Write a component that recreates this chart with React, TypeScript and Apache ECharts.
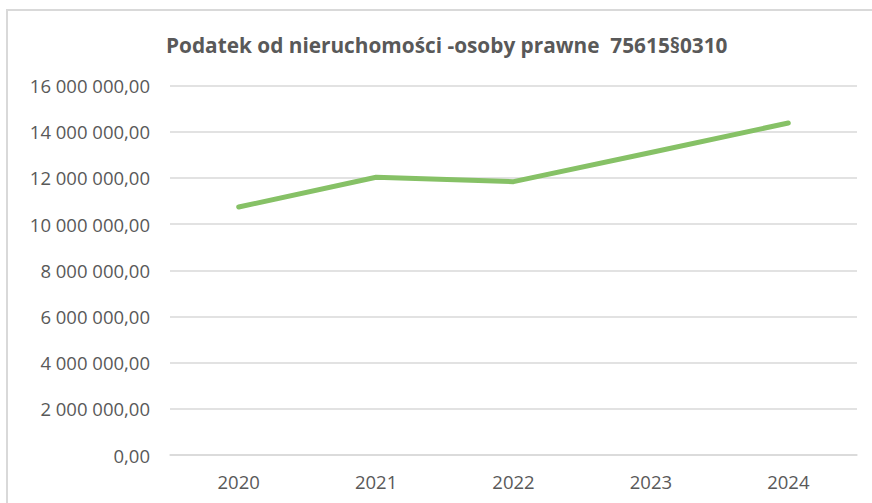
import React, { useEffect, useRef } from "react";
import * as echarts from "echarts";

const TITLE = "Podatek od nieruchomości -osoby prawne  75615§0310";
const years = ["2020", "2021", "2022", "2023", "2024"];
const values = [10740000, 12030000, 11840000, 13100000, 14380000];

const fmt = (v: number) => {
  const [i, d] = v.toFixed(2).split(".");
  return i.replace(/\B(?=(\d{3})+(?!\d))/g, " ") + "," + d;
};

export default function App() {
  const ref = useRef<HTMLDivElement>(null);
  useEffect(() => {
    document.body.style.margin = "0";
    const chart = echarts.init(ref.current!, null, { renderer: "svg" });
    chart.setOption({
      animation: false,
      backgroundColor: "#ffffff",
      title: {
        text: TITLE,
        left: 161,
        top: 29,
        textStyle: {
          fontFamily: "Open Sans",
          fontWeight: "bold",
          fontSize: 20.8,
          color: "#595959",
        },
      },
      graphic: [
        {
          type: "rect",
          shape: { x: 7, y: 10, width: 1000, height: 700 },
          style: { fill: "none", stroke: "#d9d9d9", lineWidth: 2 },
          silent: true,
        },
      ],
      grid: { left: 170, right: 15, top: 85.6, bottom: 48, containLabel: false },
      xAxis: {
        type: "category",
        data: years,
        boundaryGap: true,
        axisLine: { show: true, lineStyle: { color: "#d9d9d9", width: 1.5 } },
        axisTick: { show: false },
        axisLabel: {
          margin: 17,
          fontFamily: "Open Sans",
          fontSize: 18.5,
          color: "#595959",
        },
      },
      yAxis: {
        type: "value",
        min: 0,
        max: 16000000,
        interval: 2000000,
        axisLine: { show: false },
        axisTick: { show: false },
        splitLine: { lineStyle: { color: "#d9d9d9", width: 1.5 } },
        axisLabel: {
          margin: 20,
          fontFamily: "Open Sans",
          fontSize: 18.5,
          color: "#595959",
          formatter: (v: number) => fmt(v),
        },
      },
      series: [
        {
          type: "line",
          data: values,
          symbol: "none",
          lineStyle: { color: "#86C166", width: 5, cap: "round", join: "round" },
        },
      ],
    });
    return () => chart.dispose();
  }, []);
  return (
    <div
      ref={ref}
      style={{ position: "fixed", left: 0, top: 0, width: 872, height: 503 }}
    />
  );
}
